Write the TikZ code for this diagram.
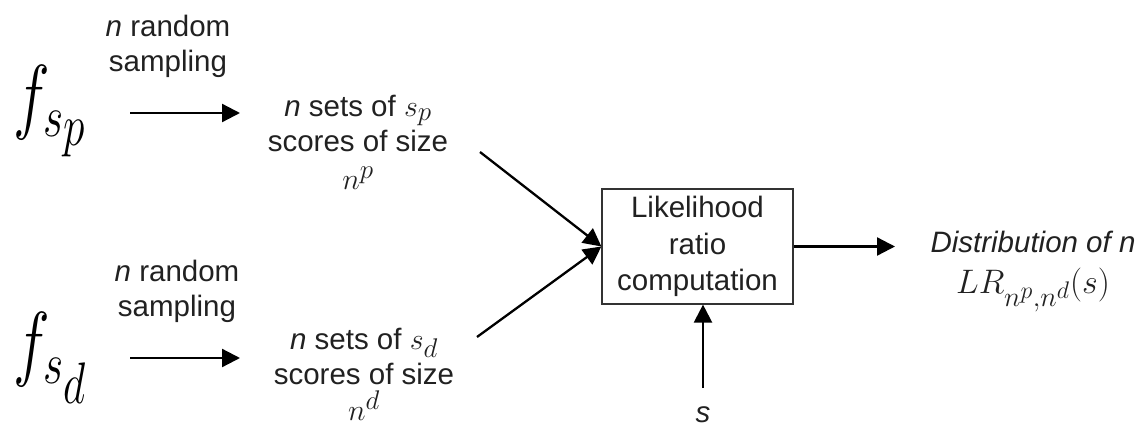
\RequirePackage{fix-cm}
\documentclass[tikz,border=0pt]{standalone}
\usepackage{fontspec}
\setmainfont{Liberation Sans}
\usepackage{graphicx}
\usetikzlibrary{arrows.meta}
\DeclareMathSizes{30}{30}{27}{23}
\DeclareMathSizes{34}{34}{28}{24}
\newcommand{\lgmath}[1]{{\fontsize{30}{35}\selectfont$#1$}}
\newcommand{\lrmath}[1]{{\fontsize{34}{35}\selectfont$#1$}}
\begin{document}
\begin{tikzpicture}[x=1pt,y=-1pt,
  txt/.style={font=\fontsize{29.5}{35}\selectfont, text=black!87, inner sep=0pt, align=center},
  arr/.style={line width=2.3pt, -{Triangle[length=18pt,width=18pt]}},
  bigf/.style={inner sep=0pt, font=\fontsize{62}{62}\selectfont},
  procbox/.style={txt, draw=black!80, line width=1.2pt, minimum width=191pt, minimum height=115pt, font=\fontsize{29.5}{36.5}\selectfont}]
\useasboundingbox (0,0) rectangle (1140,428);

% sources
\node[bigf] (fp) at (50,111) {\scalebox{1}[1.35]{$f_{s_{\scriptstyle p}}$}};
\node[bigf] (fd) at (50,358) {\scalebox{1}[1.35]{$f_{s_{\scriptstyle d}}$}};

% sampling labels
\node[txt] (rp) at (168,46) {\textit{n} random\\sampling};
\node[txt] (rd) at (177,291) {\textit{n} random\\sampling};

\coordinate (p0) at (130,113);
\coordinate (p1) at (240,113);
\coordinate (d0) at (130,358);
\coordinate (d1) at (240,358);
\draw[arr] (p0) -- (p1);
\draw[arr] (d0) -- (d1);

% score sets
\node[txt] (tp) at (358,142) {\textit{n} sets of \lgmath{s_p}\\scores of size\\[3pt]\lgmath{n^p}};
\node[txt] (td) at (364,374) {\textit{n} sets of \lgmath{s_d}\\scores of size\\[1pt]\lgmath{n^d}};

% LR box
\node[procbox] (box) at (697.5,246.5) {Likelihood\\ratio\\computation};

\coordinate (q1) at (480,152);
\coordinate (q2) at (477,337);
\draw[arr] (q1) -- (box.west);
\draw[arr] (q2) -- (box.west);

% output
\node[txt] (out) at (1033,272) {\textit{Distribution of n}\\[6pt]\lrmath{LR_{n^p,n^d}(s)}};
\coordinate (o1) at (895,246.5);
\draw[arr] (box.east) -- (o1);

% s input
\node[txt] (sv) at (703,415) {\textit{s}};
\coordinate (s0) at (703,388);
\draw[arr] (s0) -- (s0 |- box.south);
\end{tikzpicture}
\end{document}
